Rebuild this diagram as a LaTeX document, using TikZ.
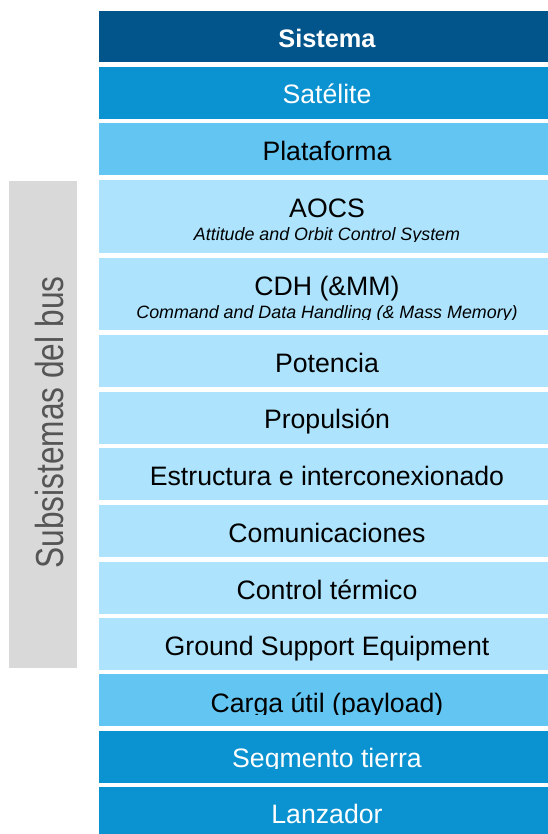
\documentclass[tikz,border=0pt]{standalone}
\usepackage{fontspec}
\setmainfont{Liberation Sans}

\definecolor{navy}{HTML}{02558B}
\definecolor{midblue}{HTML}{0B92D0}
\definecolor{skyblue}{HTML}{63C6F2}
\definecolor{paleblue}{HTML}{ADE3FD}
\definecolor{panel}{HTML}{D9D9D9}
\definecolor{paneltext}{HTML}{555555}

\tikzset{
  band/.style={rectangle, inner sep=0pt, minimum width=342pt},
  shortband/.style={band, minimum height=38.8pt},
  tallband/.style={band, minimum height=54.4pt},
  lbl/.style={anchor=base, inner sep=0pt, font=\fontsize{20}{24}\selectfont},
  sublbl/.style={anchor=base, inner sep=0pt, font=\fontsize{13.4}{16}\selectfont\itshape},
  whitetext/.style={text=white},
}

\begin{document}
\begin{tikzpicture}[x=0.75pt,y=-0.75pt]
\useasboundingbox[fill=white] (0,0) rectangle (548,834);

% side panel
\node[rectangle, fill=panel, inner sep=0pt, minimum width=51pt, minimum height=365.25pt] (panel) at (43,424.5) {};
\node[anchor=base, rotate=90, inner sep=0pt, text=paneltext, font=\fontsize{29.3}{34}\selectfont] (paneltitle) at (63.3,422.5) {\scalebox{0.81}[1]{Subsistemas del bus}};

% levels
\node[shortband, fill=navy, minimum height=38.25pt] (sistema) at (327,36.5) {};
\node[lbl, whitetext, font=\fontsize{19}{24}\selectfont\bfseries] (sistematxt) at (327,47.5) {Sistema};

\node[shortband, fill=midblue] (satelite) at (327,92.85) {};
\node[lbl, whitetext] (satelitetxt) at (327,103.5) {Satélite};

\node[shortband, fill=skyblue] (plataforma) at (327,149.35) {};
\node[lbl] (plataformatxt) at (327,160.5) {Plataforma};

\node[tallband, fill=paleblue] (aocs) at (327,216.35) {};
\node[lbl] (aocstxt) at (327,217.3) {AOCS};
\begin{scope}
  \clip (99,180) rectangle (555,241.7);
  \node[sublbl] (aocssub) at (327,240.7) {Attitude and Orbit Control System};
\end{scope}

\node[tallband, fill=paleblue] (cdh) at (327,293.85) {};
\node[lbl] (cdhtxt) at (327,295) {CDH (\&MM)};
\begin{scope}
  \clip (99,257.7) rectangle (555,319.3);
  \node[sublbl] (cdhsub) at (327,318.3) {Command and Data Handling (\& Mass Memory)};
\end{scope}

\node[shortband, fill=paleblue] (potencia) at (327,361) {};
\node[lbl] (potenciatxt) at (327,372) {Potencia};

\node[shortband, fill=paleblue] (propulsion) at (327,417.75) {};
\node[lbl] (propulsiontxt) at (327,428.5) {Propulsión};

\node[shortband, fill=paleblue] (estructura) at (327,474.25) {};
\node[lbl] (estructuratxt) at (327,485.5) {Estructura e interconexionado};

\node[shortband, fill=paleblue] (comunicaciones) at (327,531) {};
\node[lbl] (comunicacionestxt) at (327,542) {Comunicaciones};

\node[shortband, fill=paleblue] (termico) at (327,587.85) {};
\node[lbl] (termicotxt) at (327,599) {Control térmico};

\node[shortband, fill=paleblue] (gse) at (327,644) {};
\node[lbl] (gsetxt) at (327,655) {Ground Support Equipment};

\node[shortband, fill=skyblue] (carga) at (327,699.85) {};
\begin{scope}
  \clip (99,674) rectangle (555,714);
  \node[lbl] (cargatxt) at (327,712) {Carga útil (payload)};
\end{scope}

\node[shortband, fill=midblue] (segmento) at (327,756.7) {};
\begin{scope}
  \clip (99,730.7) rectangle (555,768.5);
  \node[lbl, whitetext] (segmentotxt) at (327,767.5) {Segmento tierra};
\end{scope}

\node[shortband, fill=midblue] (lanzador) at (327,812.7) {};
\node[lbl, whitetext] (lanzadortxt) at (327,823.5) {Lanzador};
\end{tikzpicture}
\end{document}
